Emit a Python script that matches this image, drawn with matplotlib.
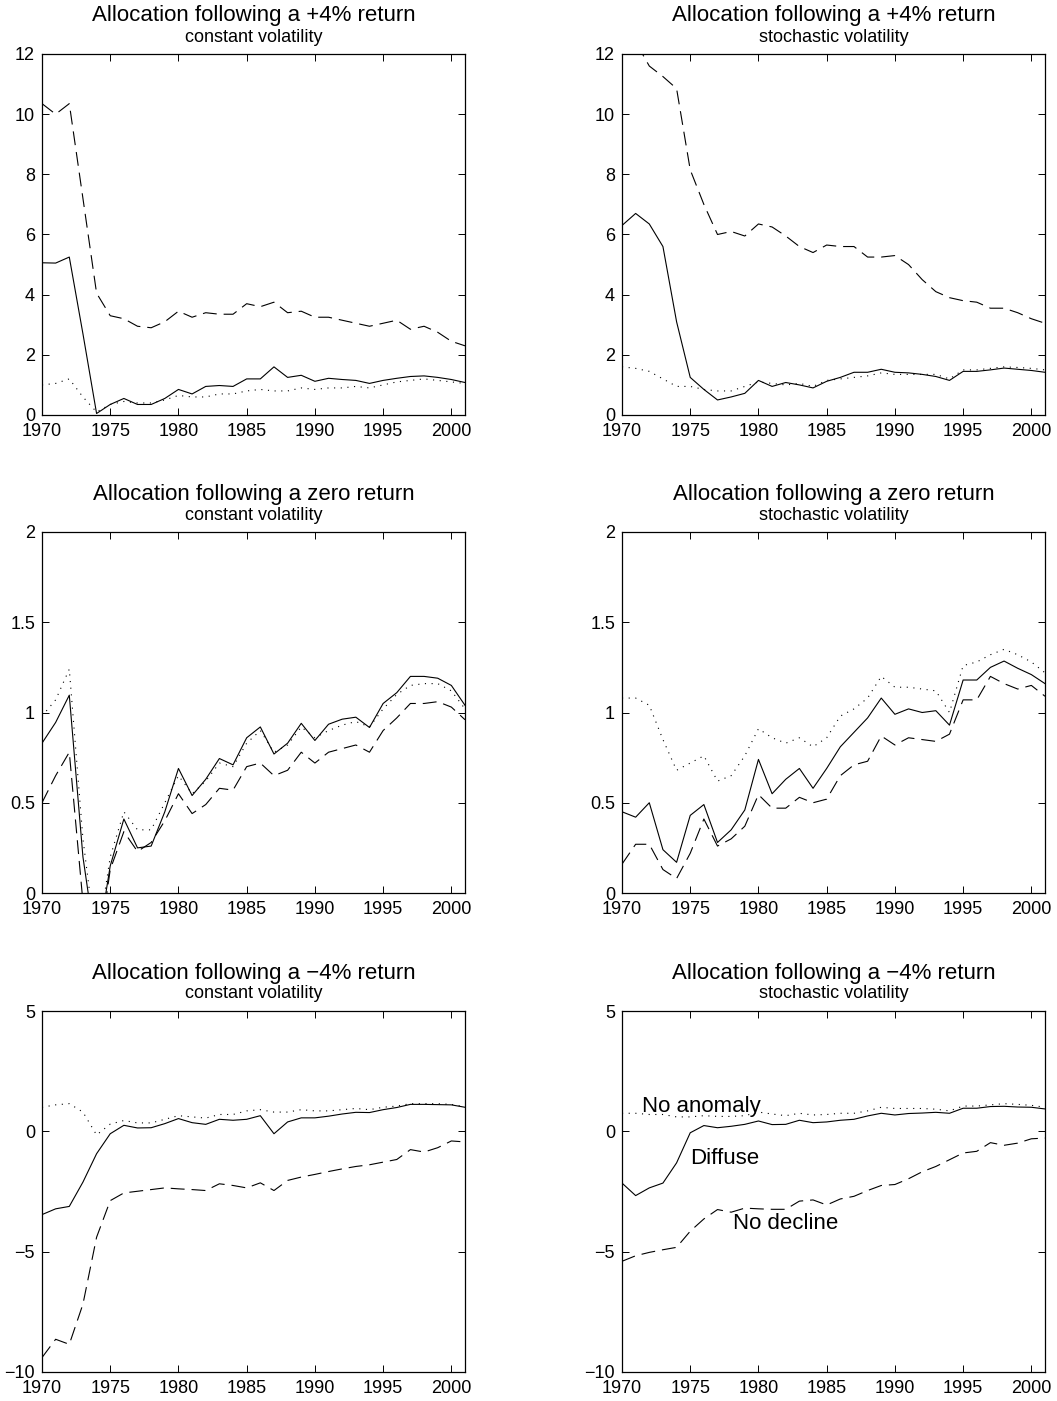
import matplotlib
matplotlib.use("Agg")
import matplotlib.pyplot as plt
import numpy as np

plt.rcParams["font.family"] = ["Liberation Sans", "DejaVu Sans"]
plt.rcParams["lines.scale_dashes"] = False

years = np.arange(1970, 2002)

# +4% return, constant volatility
up_const_diffuse = [5.06, 5.05, 5.25, 2.7, 0.05, 0.35, 0.55, 0.35, 0.35, 0.55, 0.85, 0.7,
                    0.95, 0.98, 0.95, 1.2, 1.2, 1.6, 1.25, 1.32, 1.12, 1.22, 1.18, 1.15,
                    1.05, 1.15, 1.22, 1.28, 1.3, 1.25, 1.18, 1.08]
up_const_nodecl = [10.35, 10.0, 10.35, 7.2, 4.05, 3.3, 3.2, 2.95, 2.9, 3.1, 3.45, 3.25,
                   3.4, 3.35, 3.35, 3.7, 3.6, 3.75, 3.4, 3.45, 3.25, 3.25, 3.15, 3.05,
                   2.95, 3.05, 3.15, 2.85, 2.95, 2.75, 2.45, 2.3]
up_const_noanom = [1.0, 1.05, 1.2, 0.6, 0.1, 0.35, 0.45, 0.4, 0.4, 0.5, 0.65, 0.6,
                   0.6, 0.7, 0.7, 0.8, 0.85, 0.8, 0.8, 0.9, 0.85, 0.9, 0.9, 0.95,
                   0.9, 1.0, 1.1, 1.15, 1.2, 1.15, 1.1, 1.05]

# +4% return, stochastic volatility
up_stoch_diffuse = [6.3, 6.7, 6.35, 5.6, 3.1, 1.25, 0.85, 0.5, 0.6, 0.72, 1.15, 0.95,
                    1.08, 1.0, 0.9, 1.12, 1.25, 1.42, 1.42, 1.52, 1.42, 1.4, 1.35, 1.28,
                    1.15, 1.45, 1.45, 1.5, 1.56, 1.52, 1.48, 1.42]
up_stoch_nodecl = [12.8, 12.4, 11.6, 11.25, 10.85, 8.15, 7.0, 6.0, 6.1, 5.95, 6.35, 6.25,
                   5.95, 5.6, 5.4, 5.65, 5.6, 5.6, 5.25, 5.25, 5.3, 5.0, 4.5, 4.1,
                   3.9, 3.8, 3.75, 3.55, 3.55, 3.4, 3.2, 3.05]
up_stoch_noanom = [1.6, 1.55, 1.45, 1.2, 0.95, 0.95, 0.85, 0.8, 0.8, 0.95, 1.1, 1.05,
                   1.0, 1.05, 0.95, 1.15, 1.2, 1.25, 1.3, 1.4, 1.35, 1.35, 1.35, 1.35,
                   1.2, 1.5, 1.5, 1.55, 1.6, 1.58, 1.55, 1.5]

# zero return, constant volatility
zero_const_diffuse = [0.83, 0.945, 1.096, 0.2, -0.32, 0.15, 0.41, 0.25, 0.26, 0.45, 0.69, 0.54,
                      0.63, 0.745, 0.71, 0.86, 0.92, 0.77, 0.83, 0.94, 0.845, 0.935, 0.963, 0.974,
                      0.917, 1.05, 1.11, 1.2, 1.2, 1.19, 1.15, 1.04]
zero_const_nodecl = [0.5, 0.65, 0.78, -0.05, -0.4, 0.13, 0.34, 0.23, 0.28, 0.4, 0.55, 0.44,
                     0.49, 0.58, 0.57, 0.7, 0.72, 0.65, 0.68, 0.78, 0.72, 0.78, 0.8, 0.82,
                     0.78, 0.9, 0.97, 1.05, 1.05, 1.06, 1.03, 0.96]
zero_const_noanom = [0.98, 1.07, 1.24, 0.3, -0.3, 0.2, 0.45, 0.35, 0.35, 0.5, 0.65, 0.55,
                     0.62, 0.72, 0.7, 0.83, 0.9, 0.78, 0.82, 0.92, 0.86, 0.9, 0.93, 0.95,
                     0.92, 1.02, 1.1, 1.15, 1.16, 1.16, 1.12, 1.02]

# zero return, stochastic volatility
zero_stoch_diffuse = [0.45, 0.42, 0.5, 0.24, 0.17, 0.43, 0.49, 0.28, 0.35, 0.46, 0.74, 0.55,
                      0.63, 0.69, 0.58, 0.69, 0.81, 0.89, 0.97, 1.08, 0.99, 1.02, 1.0, 1.01,
                      0.93, 1.18, 1.18, 1.25, 1.285, 1.245, 1.21, 1.16]
zero_stoch_nodecl = [0.16, 0.27, 0.27, 0.13, 0.08, 0.22, 0.41, 0.26, 0.3, 0.37, 0.545, 0.47,
                     0.47, 0.53, 0.5, 0.52, 0.65, 0.71, 0.73, 0.87, 0.82, 0.86, 0.85, 0.84,
                     0.88, 1.07, 1.07, 1.2, 1.16, 1.13, 1.15, 1.09]
zero_stoch_noanom = [1.08, 1.08, 1.04, 0.85, 0.68, 0.72, 0.76, 0.62, 0.65, 0.76, 0.91, 0.86,
                     0.83, 0.86, 0.81, 0.86, 0.98, 1.02, 1.08, 1.2, 1.14, 1.14, 1.13, 1.12,
                     1.0, 1.26, 1.28, 1.32, 1.35, 1.32, 1.28, 1.22]

# -4% return, constant volatility
down_const_diffuse = [-3.46, -3.22, -3.12, -2.11, -0.93, -0.1, 0.25, 0.14, 0.15, 0.32, 0.53, 0.36,
                      0.29, 0.5, 0.46, 0.5, 0.65, -0.1, 0.39, 0.56, 0.56, 0.63, 0.72, 0.79,
                      0.78, 0.9, 0.99, 1.12, 1.12, 1.11, 1.1, 1.0]
down_const_nodecl = [-9.4, -8.64, -8.85, -7.18, -4.4, -2.88, -2.56, -2.49, -2.42, -2.35, -2.39, -2.42,
                     -2.46, -2.18, -2.25, -2.35, -2.14, -2.46, -2.04, -1.9, -1.79, -1.67, -1.56, -1.46,
                     -1.39, -1.28, -1.17, -0.76, -0.86, -0.68, -0.4, -0.44]
down_const_noanom = [1.0, 1.1, 1.15, 0.8, -0.15, 0.3, 0.45, 0.35, 0.35, 0.5, 0.65, 0.6,
                     0.55, 0.7, 0.7, 0.85, 0.9, 0.8, 0.8, 0.9, 0.85, 0.85, 0.9, 0.95,
                     0.9, 1.0, 1.05, 1.15, 1.15, 1.15, 1.12, 1.02]

# -4% return, stochastic volatility
down_stoch_diffuse = [-2.15, -2.67, -2.35, -2.15, -1.31, -0.06, 0.24, 0.15, 0.21, 0.29, 0.43, 0.28,
                      0.29, 0.46, 0.36, 0.39, 0.46, 0.5, 0.64, 0.75, 0.68, 0.74, 0.76, 0.79,
                      0.75, 0.96, 0.96, 1.03, 1.04, 1.01, 1.0, 0.93]
down_stoch_nodecl = [-5.4, -5.17, -5.03, -4.92, -4.82, -4.15, -3.64, -3.25, -3.36, -3.19, -3.22, -3.24,
                     -3.24, -2.9, -2.85, -3.06, -2.81, -2.7, -2.46, -2.25, -2.21, -1.97, -1.68, -1.46,
                     -1.18, -0.9, -0.83, -0.47, -0.58, -0.49, -0.31, -0.28]
down_stoch_noanom = [0.75, 0.75, 0.7, 0.7, 0.6, 0.6, 0.65, 0.62, 0.62, 0.65, 0.8, 0.72,
                     0.65, 0.75, 0.68, 0.7, 0.75, 0.75, 0.85, 1.0, 0.95, 0.95, 0.95, 0.92,
                     0.85, 1.05, 1.05, 1.1, 1.15, 1.12, 1.08, 1.0]

titles = ["Allocation following a +4% return", "Allocation following a zero return",
          "Allocation following a \u22124% return"]
subtitles = ["constant volatility", "stochastic volatility"]

panels = [
    [(up_const_diffuse, up_const_nodecl, up_const_noanom),
     (up_stoch_diffuse, up_stoch_nodecl, up_stoch_noanom)],
    [(zero_const_diffuse, zero_const_nodecl, zero_const_noanom),
     (zero_stoch_diffuse, zero_stoch_nodecl, zero_stoch_noanom)],
    [(down_const_diffuse, down_const_nodecl, down_const_noanom),
     (down_stoch_diffuse, down_stoch_nodecl, down_stoch_noanom)],
]
ylims = [(0, 12), (0, 2), (-10, 5)]
yticks = [[0, 2, 4, 6, 8, 10, 12], [0, 0.5, 1, 1.5, 2], [-10, -5, 0, 5]]
yticklabels = [["0", "2", "4", "6", "8", "10", "12"], ["0", "0.5", "1", "1.5", "2"],
               ["\u221210", "\u22125", "0", "5"]]

fig = plt.figure(figsize=(10.57, 14.01), dpi=100)

W, H = 1057, 1401
col_left = [42, 622]
row_top = [54, 532, 1011]
ax_w, ax_h = 423, 361

for r in range(3):
    for c in range(2):
        ax = fig.add_axes([col_left[c] / W, 1 - (row_top[r] + ax_h) / H, ax_w / W, ax_h / H])
        diffuse, nodecl, noanom = panels[r][c]
        ax.plot(years, diffuse, color="black", lw=0.8)
        ax.plot(years, nodecl, color="black", lw=0.8, dashes=(10, 5))
        ax.plot(years, noanom, color="black", lw=0.8, dashes=(0.8, 4))
        ax.set_xlim(1970, 2001)
        ax.set_ylim(*ylims[r])
        ax.set_xticks(range(1970, 2001, 5))
        ax.set_yticks(yticks[r])
        ax.set_yticklabels(yticklabels[r])
        ax.tick_params(direction="in", top=True, right=True, length=5, width=0.7,
                       labelsize=13)
        ax.tick_params(axis="x", pad=6)
        ax.tick_params(axis="y", pad=5)
        for s in ax.spines.values():
            s.set_linewidth(0.9)
        cx = (col_left[c] + ax_w / 2) / W
        fig.text(cx, 1 - (row_top[r] - 38) / H, titles[r], ha="center", va="center", fontsize=16)
        fig.text(cx, 1 - (row_top[r] - 17) / H, subtitles[c], ha="center", va="center", fontsize=13)
        if r == 2 and c == 1:
            ax.text(1971.45, 1.04, "No anomaly", fontsize=16, va="center", ha="left")
            ax.text(1975.0, -1.14, "Diffuse", fontsize=16, va="center", ha="left")
            ax.text(1978.15, -3.82, "No decline", fontsize=16, va="center", ha="left")

fig.savefig("out.png", dpi=100)
